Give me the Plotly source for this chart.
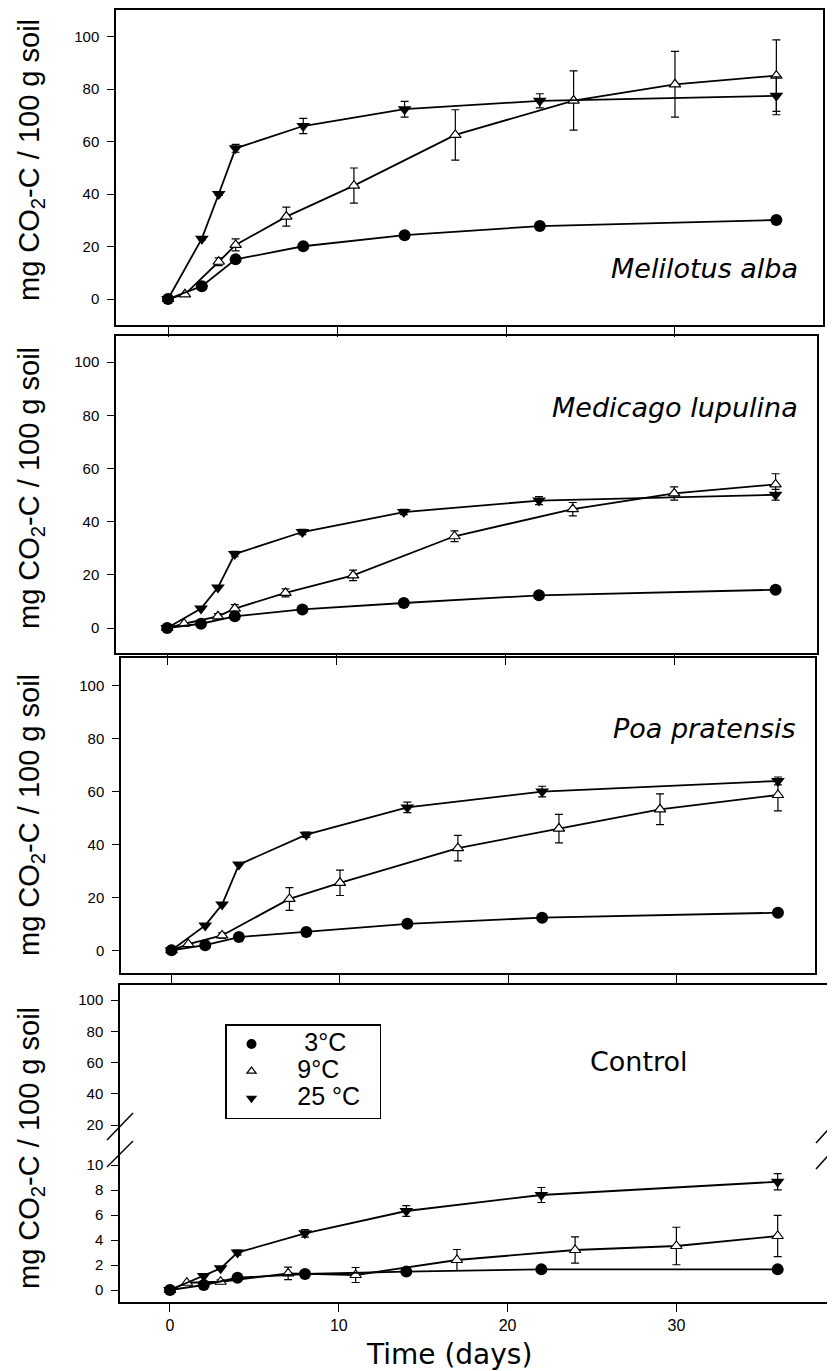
import plotly.graph_objects as go

PAGE_W, PAGE_H = 835, 1371
OFF = 8  # default body margin of the html page
W, H = PAGE_W - OFF, PAGE_H - OFF

# ---------------- data ----------------
days_3 = [0, 2, 4, 8, 14, 22, 36]
days_25 = [0, 2, 3, 4, 8, 14, 22, 36]
days_9 = [0, 1, 3, 4, 7, 11, 17, 24, 30, 36]
days_9_poa = [0, 1, 3, 7, 10, 17, 23, 29, 36]
days_9_ctrl = [0, 1, 3, 7, 11, 17, 24, 30, 36]

# Melilotus alba
mel_3 = [0, 4.9, 15.1, 20.1, 24.3, 27.8, 30.1]
mel_9 = [0, 1.8, 14.2, 20.6, 31.4, 43.2, 62.5, 75.6, 81.8, 85.1]
mel_9_err = [0, 0, 1.5, 2.3, 3.6, 6.7, 9.6, 11.3, 12.5, 13.6]
mel_25 = [0, 23.0, 40.0, 57.4, 65.9, 72.3, 75.5, 77.4]
mel_25_err = [0, 0.5, 0.5, 1.5, 2.9, 3.0, 2.7, 7.2]

# Medicago lupulina
med_3 = [0, 1.6, 4.4, 7.0, 9.4, 12.3, 14.4]
med_9 = [0, 1.6, 4.4, 7.3, 13.2, 19.8, 34.5, 44.7, 50.6, 54.0]
med_9_err = [0, 0, 1.0, 1.5, 1.5, 2.0, 2.0, 2.5, 2.5, 4.0]
med_25 = [0, 7.3, 15.2, 27.8, 36.1, 43.6, 47.9, 50.1]
med_25_err = [0, 0, 0, 1.0, 1.0, 1.0, 1.5, 2.0]

# Poa pratensis
poa_3 = [0, 1.9, 5.0, 6.9, 10.0, 12.3, 14.2]
poa_9 = [0, 2.3, 5.6, 19.4, 25.5, 38.6, 46.0, 53.3, 58.7]
poa_9_err = [0, 0, 1.0, 4.3, 4.8, 4.8, 5.4, 5.8, 6.0]
poa_25 = [0, 9.4, 17.3, 32.4, 43.7, 54.0, 60.0, 64.0]
poa_25_err = [0, 0, 0, 0, 1.0, 2.0, 2.0, 1.5]

# Control
ctl_3 = [0, 0.4, 0.98, 1.28, 1.47, 1.65, 1.65]
ctl_9 = [0, 0.58, 0.66, 1.33, 1.2, 2.4, 3.2, 3.52, 4.32]
ctl_9_err = [0, 0, 0.15, 0.5, 0.6, 0.84, 1.05, 1.5, 1.65]
ctl_25 = [0, 1.12, 1.73, 2.99, 4.53, 6.32, 7.6, 8.66]
ctl_25_err = [0, 0, 0, 0.2, 0.3, 0.43, 0.6, 0.65]

panel_names = ["Melilotus alba", "Medicago lupulina", "Poa pratensis", "Control"]
series_names = ["3°C", "9°C", "25 °C"]
x_ticks = [0, 10, 20, 30]
y_ticks_main = [0, 20, 40, 60, 80, 100]
y_ticks_ctrl_low = [0, 2, 4, 6, 8, 10]
y_ticks_ctrl_up = [20, 40, 60, 80, 100]

panels = [
    dict(d3=mel_3, d9x=days_9, d9=mel_9, e9=mel_9_err, d25=mel_25, e25=mel_25_err),
    dict(d3=med_3, d9x=days_9, d9=med_9, e9=med_9_err, d25=med_25, e25=med_25_err),
    dict(d3=poa_3, d9x=days_9_poa, d9=poa_9, e9=poa_9_err, d25=poa_25, e25=poa_25_err),
    dict(d3=ctl_3, d9x=days_9_ctrl, d9=ctl_9, e9=ctl_9_err, d25=ctl_25, e25=ctl_25_err),
]

# ---------------- geometry (page pixels) ----------------
def px(v):
    return (v - OFF) / W

def py(v):
    return 1 - (v - OFF) / H

# left, right, top, bottom of each panel frame
frames = [
    (116, 823, 10, 325),
    (116, 817, 336, 653),
    (121, 815, 658, 973),
    (120, 830, 985, 1302),
]
x_ranges = [[-3.08, 38.76], [-3.03, 38.45], [-3.0, 38.2], [-2.96, 39.1]]
y_ranges = [[-9.9, 110.1], [-9.4, 109.8], [-8.6, 110.5]]
ctrl_split = 1140  # pixel where the broken axis splits
ctrl_low_range = [-0.96, 12.0]
ctrl_up_range = [10.4, 109.6]

SANS = "Liberation Sans, Arial, Helvetica, sans-serif"
TICKFONT = dict(family=SANS, size=15, color="black")
LINE = dict(showline=True, linecolor="black", linewidth=1.5, showgrid=False,
            zeroline=False, ticks="outside", tickcolor="black", tickwidth=1.2)

fig = go.Figure()

for i, p in enumerate(panels):
    xa = "x" if i == 0 else f"x{i+1}"
    ya = "y" if i == 0 else f"y{i+1}"
    common = dict(xaxis=xa, yaxis=ya, mode="lines+markers", showlegend=False,
                  line=dict(color="black", width=1.8), cliponaxis=False)
    fig.add_trace(go.Scatter(
        x=p["d9x"], y=p["d9"], name=series_names[1],
        marker=dict(symbol="triangle-up", size=10, color="white",
                    line=dict(color="black", width=1.2)),
        error_y=dict(type="data", array=p["e9"], color="black", thickness=1.2, width=4),
        **common))
    fig.add_trace(go.Scatter(
        x=days_25, y=p["d25"], name=series_names[2],
        marker=dict(symbol="triangle-down", size=12, color="black"),
        error_y=dict(type="data", array=p["e25"], color="black", thickness=1.2, width=4),
        **common))
    fig.add_trace(go.Scatter(
        x=days_3, y=p["d3"], name=series_names[0],
        marker=dict(symbol="circle", size=12, color="black"),
        **common))

# empty trace on the upper part of the broken control axis
fig.add_trace(go.Scatter(x=[None], y=[None], xaxis="x5", yaxis="y5", showlegend=False))

# legend-only traces
NB = "\u00a0"
leg_syms = [dict(symbol="circle", size=10, color="black"),
            dict(symbol="triangle-up", size=8, color="white", line=dict(color="black", width=1.2)),
            dict(symbol="triangle-down", size=10, color="black")]
leg_labels = [NB * 4 + series_names[0],
              NB * 3 + series_names[1],
              NB * 3 + series_names[2] + NB * 2]
for lab, sym in zip(leg_labels, leg_syms):
    fig.add_trace(go.Scatter(x=[None], y=[None], xaxis="x4", yaxis="y4", mode="markers",
                             marker=sym,
                             name=f"<span style='font-size:25px'>{lab}</span>",
                             showlegend=True))

layout = dict(
    width=W, height=H, margin=dict(l=0, r=0, t=0, b=0),
    paper_bgcolor="white", plot_bgcolor="white",
    showlegend=True,
    legend=dict(x=px(225), y=py(1024), xanchor="left", yanchor="top",
                bordercolor="black", borderwidth=1.5, bgcolor="white",
                font=dict(family=SANS, size=18.5, color="black"),
                itemwidth=40, tracegroupgap=0),
)

for i in range(4):
    l, r, t, b = frames[i]
    xk = "xaxis" if i == 0 else f"xaxis{i+1}"
    yk = "yaxis" if i == 0 else f"yaxis{i+1}"
    ya_name = "y" if i == 0 else f"y{i+1}"
    xa_name = "x" if i == 0 else f"x{i+1}"
    if i < 3:
        layout[xk] = dict(domain=[px(l), px(r)], range=x_ranges[i], anchor=ya_name,
                          tickvals=x_ticks, showticklabels=False, ticklen=10,
                          mirror=True, **LINE)
        layout[yk] = dict(domain=[py(b), py(t)], range=y_ranges[i], anchor=xa_name,
                          tickvals=y_ticks_main, ticklen=7, tickfont=TICKFONT,
                          mirror=True, ticklabelstandoff=5, **LINE)
    else:
        layout[xk] = dict(domain=[px(l), px(r)], range=x_ranges[i], anchor=ya_name,
                          tickvals=x_ticks, showticklabels=True, ticklen=8,
                          tickfont=dict(family=SANS, size=16, color="black"),
                          mirror=False, **LINE)
        layout[yk] = dict(domain=[py(b), py(ctrl_split)], range=ctrl_low_range, anchor=xa_name,
                          tickvals=y_ticks_ctrl_low, ticklen=7, tickfont=TICKFONT,
                          mirror=True, ticklabelstandoff=5, **LINE)
        layout["xaxis5"] = dict(domain=[px(l), px(r)], range=x_ranges[i], anchor="y5",
                                side="top", showline=True, linecolor="black", linewidth=1.5,
                                showgrid=False, zeroline=False, ticks="", showticklabels=False)
        layout["yaxis5"] = dict(domain=[py(ctrl_split), py(t)], range=ctrl_up_range, anchor="x5",
                                tickvals=y_ticks_ctrl_up, ticklen=7, tickfont=TICKFONT,
                                mirror=True, ticklabelstandoff=5, **LINE)

fig.update_layout(**layout)

# ---------------- annotations ----------------
ytitle = "mg CO<sub>2</sub>-C / 100 g soil"
title_centers = [160, 488, 815, 1148]
for yc in title_centers:
    fig.add_annotation(x=px(31), y=py(yc), xref="paper", yref="paper", text=ytitle,
                       textangle=-90, showarrow=False, xanchor="center", yanchor="middle",
                       font=dict(family=SANS, size=29, color="black"))

name_pos = [(800, 268, "right"), (800, 407, "right"), (798, 728, "right"), (639, 1061, "center")]
for i, (nx, ny, anc) in enumerate(name_pos):
    fig.add_annotation(x=px(nx), y=py(ny), xref="paper", yref="paper",
                       text=(f"<i>{panel_names[i]}</i>" if i < 3 else panel_names[i]),
                       showarrow=False, xanchor=anc, yanchor="middle",
                       font=dict(family="DejaVu Sans", size=27, color="black"))

fig.add_annotation(x=px(449), y=py(1354), xref="paper", yref="paper", text="Time (days)",
                   showarrow=False, xanchor="center", yanchor="middle",
                   font=dict(family="DejaVu Sans", size=28, color="black"))

# ---------------- axis break marks ----------------
shapes = []
for (x0, y0, x1, y1) in [(107, 1140, 133, 1113), (107, 1167, 133, 1141),
                         (816, 1143, 834, 1123), (816, 1169, 834, 1149)]:
    shapes.append(dict(type="line", xref="paper", yref="paper",
                       x0=px(x0), y0=py(y0), x1=px(x1), y1=py(y1),
                       line=dict(color="black", width=1.5)))
fig.update_layout(shapes=shapes)

fig.write_html("out.html")
